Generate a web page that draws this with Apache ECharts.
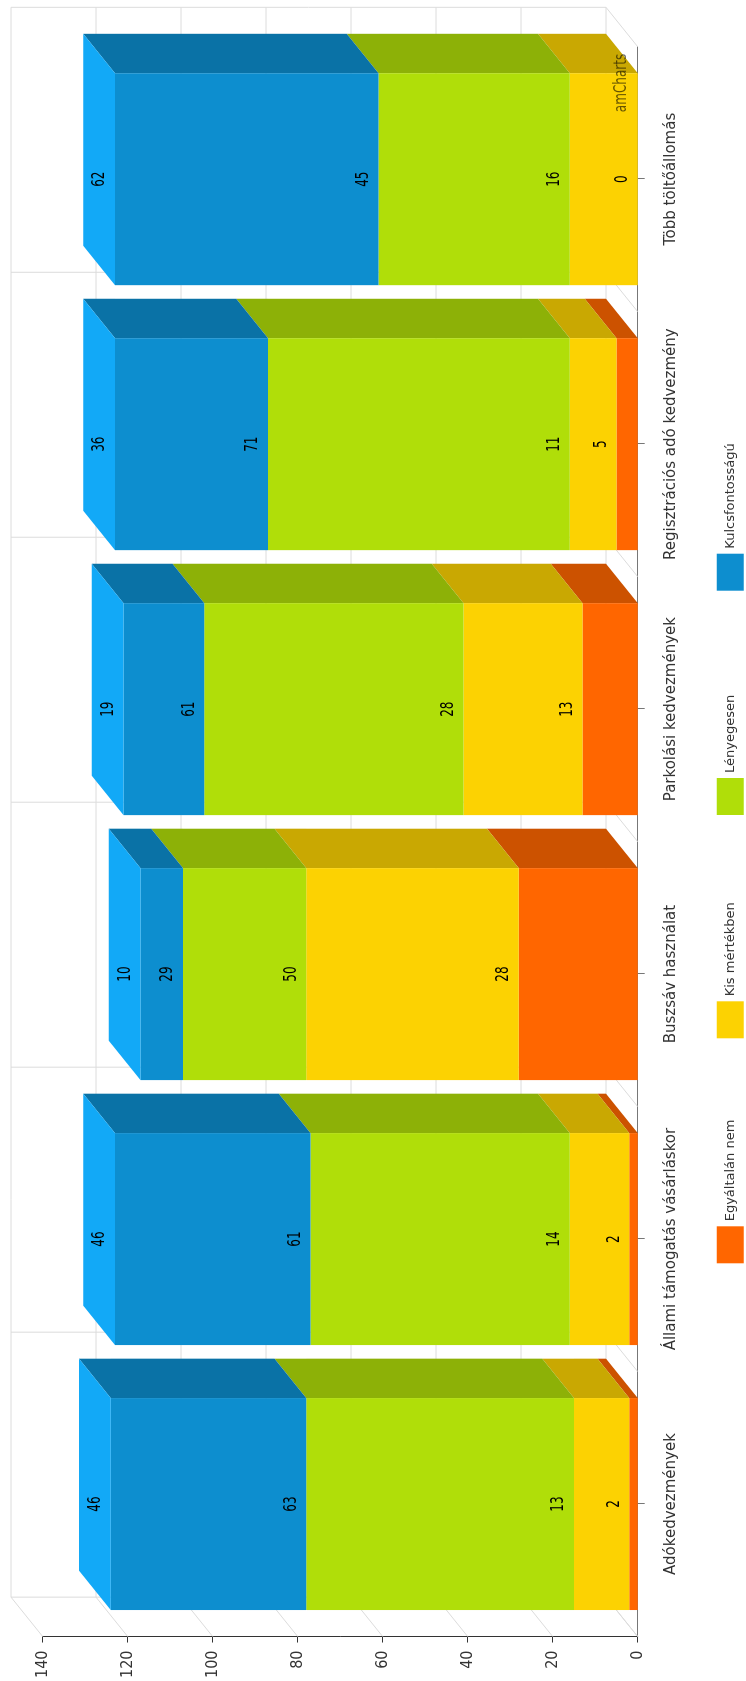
<!DOCTYPE html>
<html>
<head>
<meta charset="utf-8">
<script src="https://cdn.jsdelivr.net/npm/echarts@6/dist/echarts.min.js"></script>
<style>
html, body { margin: 0; padding: 0; width: 746px; height: 1681px; overflow: hidden; background: #ffffff; }
#chart { position: absolute; left: 0; top: 0; width: 1681px; height: 746px;
  transform-origin: 0 0; transform: translate(0px, 1681px) rotate(-90deg); }
</style>
</head>
<body>
<div id="chart"></div>
<script>
// ---- data ----
const categories = ['Adókedvezmények', 'Állami támogatás vásárláskor', 'Buszsáv használat',
  'Parkolási kedvezmények', 'Regisztrációs adó kedvezmény', 'Több töltőállomás'];
const egyaltalanNem   = [2, 2, 28, 13, 5, 0];
const kisMertekben    = [13, 14, 50, 28, 11, 16];
const lenyegesen      = [63, 61, 29, 61, 71, 45];
const kulcsfontossagu = [46, 46, 10, 19, 36, 62];
const seriesNames = ['Egyáltalán nem', 'Kis mértékben', 'Lényegesen', 'Kulcsfontosságú'];
const valueTicks = [0, 20, 40, 60, 80, 100, 120, 140];

// ---- styling ----
const FONT = 'DejaVu Sans';
const NARROW = "'Liberation Sans Narrow', 'DejaVu Sans Condensed', 'DejaVu Sans', sans-serif";
const frontColors = ['#FF6600', '#FCD202', '#B0DE09', '#0D8ECF'];
const sideColors  = ['#CC5200', '#C9A802', '#8DB107', '#0A72A6'];
const topColors   = ['#FF8A3D', '#FDE04A', '#C8F233', '#12A9F7'];
const DX = 39.4, DY = -31.7;      // 3D depth offset
const BAR_RATIO = 0.8;
const LABEL_OFFSET = 15;
const TEXT_STRETCH = 1.4;
const GRID_COLOR = '#dcdcdc';

const stackValues = [egyaltalanNem, kisMertekben, lenyegesen, kulcsfontossagu];
const starts = stackValues.map((arr, s) => arr.map((v, i) =>
  stackValues.slice(0, s).reduce((acc, a) => acc + a[i], 0)));
const topIndex = categories.map((c, i) => {
  let t = -1;
  stackValues.forEach((arr, s) => { if (arr[i] > 0) t = s; });
  return t;
});

function makeBar(s) {
  return function (params, api) {
    const i = api.value(0), a = api.value(1), b = api.value(2);
    if (!(b - a > 0)) return null;
    const bw = api.size([1, 0])[0] * BAR_RATIO;
    const p0 = api.coord([i, a]), p1 = api.coord([i, b]);
    const x1 = p0[0] - bw / 2, x2 = p0[0] + bw / 2, yb = p0[1], yt = p1[1];
    const children = [
      { type: 'polygon', shape: { points: [[x2, yb], [x2, yt], [x2 + DX, yt + DY], [x2 + DX, yb + DY]] },
        style: { fill: sideColors[s] } },
      { type: 'rect', shape: { x: x1, y: yt, width: bw, height: yb - yt },
        style: { fill: frontColors[s] } }
    ];
    if (topIndex[i] === s) {
      children.push({ type: 'polygon', shape: { points: [[x1, yt], [x2, yt], [x2 + DX, yt + DY], [x1 + DX, yt + DY]] },
        style: { fill: topColors[s] } });
    }
    return { type: 'group', children };
  };
}

function renderWalls(params, api) {
  const bw = api.size([1, 0])[0];
  const n = categories.length;
  const xLeft = api.coord([0, 0])[0] - bw / 2;
  const xRight = api.coord([n - 1, 0])[0] + bw / 2;
  const y0 = api.coord([0, valueTicks[0]])[1];
  const yMax = api.coord([0, valueTicks[valueTicks.length - 1]])[1];
  const st = { stroke: GRID_COLOR, lineWidth: 1 };
  const children = [];
  valueTicks.forEach(v => {
    const y = api.coord([0, v])[1];
    children.push({ type: 'line', shape: { x1: xLeft + DX, y1: y + DY, x2: xRight + DX, y2: y + DY }, style: st });
    children.push({ type: 'line', shape: { x1: xLeft, y1: y, x2: xLeft + DX, y2: y + DY }, style: st });
  });
  for (let k = 0; k <= n; k++) {
    const xb = xLeft + k * bw;
    children.push({ type: 'line', shape: { x1: xb + DX, y1: yMax + DY, x2: xb + DX, y2: y0 + DY }, style: st });
    children.push({ type: 'line', shape: { x1: xb, y1: y0, x2: xb + DX, y2: y0 + DY }, style: st });
  }
  return { type: 'group', children };
}

function renderLabels(params, api) {
  const i = api.value(0);
  const children = stackValues.map((arr, s) => {
    const end = starts[s][i] + arr[i];
    const p = api.coord([i, end]);
    return { type: 'text', x: p[0], y: p[1] - LABEL_OFFSET, scaleY: TEXT_STRETCH,
      style: { text: String(arr[i]), fill: '#000', fontSize: 12, fontFamily: FONT,
        align: 'center', verticalAlign: 'middle' } };
  });
  return { type: 'group', children };
}

const legendLeft = [417.7, 642.7, 866, 1090.3];

const chart = echarts.init(document.getElementById('chart'), null, { width: 1681, height: 746 });
chart.setOption({
  animation: false,
  backgroundColor: '#ffffff',
  textStyle: { fontFamily: FONT },
  grid: { left: 42.3, right: 46.7, top: 42.7, bottom: 108.3, containLabel: false },
  legend: seriesNames.map((name, s) => ({
    data: [name], left: legendLeft[s], top: 716.7, padding: 0,
    itemWidth: 37, itemHeight: 27, icon: 'rect', selectedMode: false,
    textStyle: { fontSize: 13, color: '#333', fontFamily: FONT }
  })),
  xAxis: {
    type: 'category', data: categories, position: 'bottom',
    axisLine: { show: true, lineStyle: { color: '#777', width: 1 } },
    axisTick: { show: true, alignWithLabel: true, length: 7, lineStyle: { color: '#777' } },
    axisLabel: { fontSize: 15, color: '#333', fontFamily: FONT, margin: 26, interval: 0 },
    splitLine: { show: false }
  },
  yAxis: {
    type: 'value', min: 0, max: 140, interval: 20,
    axisLine: { show: true, lineStyle: { color: '#333', width: 1 } },
    axisTick: { show: true, length: 6, lineStyle: { color: '#333' } },
    axisLabel: { fontSize: 16, color: '#333', fontFamily: NARROW, margin: 14 },
    splitLine: { show: false }
  },
  graphic: [{
    type: 'text', x: 1598, y: 622, scaleY: TEXT_STRETCH, z: 100,
    style: { text: 'amCharts', fontSize: 12, fontFamily: FONT, fill: 'rgba(0,0,0,0.6)',
      align: 'center', verticalAlign: 'middle' }
  }],
  series: [
    { type: 'custom', name: 'walls', z: 1, silent: true, renderItem: renderWalls,
      encode: { x: 0, y: 1 }, data: [[0, 0]] }
  ].concat(stackValues.map((arr, s) => ({
    type: 'custom', name: seriesNames[s], z: 2, renderItem: makeBar(s),
    itemStyle: { color: frontColors[s] },
    encode: { x: 0, y: [1, 2] },
    data: categories.map((c, i) => [i, starts[s][i], starts[s][i] + arr[i]])
  }))).concat([
    { type: 'custom', name: 'labels', z: 3, silent: true, renderItem: renderLabels,
      encode: { x: 0, y: 1 }, data: categories.map((c, i) => [i, 0]) }
  ])
});
</script>
</body>
</html>
